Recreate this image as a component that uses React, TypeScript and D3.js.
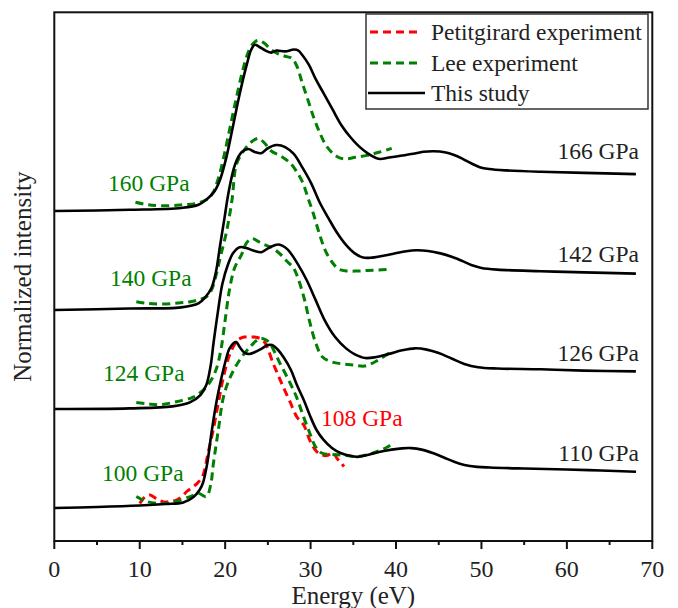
import React from "react";
import * as d3 from "d3";

type Pt = [number, number];

// ---- axis / legend text ----
const xTicks = [0, 10, 20, 30, 40, 50, 60, 70];
const xMinorTicks = [5, 15, 25, 35, 45, 55, 65];
const xTitle = "Energy (eV)";
const yTitle = "Normalized intensity";
const legendLabels = ["Petitgirard experiment", "Lee experiment", "This study"];

// ---- curve labels ----
const studyLabels = ["110 GPa", "126 GPa", "142 GPa", "166 GPa"];
const leeLabels = ["100 GPa", "124 GPa", "140 GPa", "160 GPa"];
const petitLabel = "108 GPa";
const offsets = [0, 1, 2, 3];

// ---- This study (solid black) ----
const study110: Pt[] = [
  [0, 0], [5, 0.01], [10, 0.025], [13, 0.04], [15.1, 0.056], [16.3, 0.111], [17, 0.182], [17.4, 0.253],
  [17.9, 0.45], [18.4, 0.76], [19, 1.08], [19.5, 1.29], [20, 1.47], [20.5, 1.61], [21, 1.667], [21.3, 1.677],
  [21.7, 1.626], [22.3, 1.566], [22.8, 1.556], [23.5, 1.576], [24.2, 1.606], [25, 1.646], [25.5, 1.646],
  [26.2, 1.596], [26.9, 1.515], [27.7, 1.394], [28.4, 1.242], [29.2, 1.091], [29.9, 0.939], [30.7, 0.788],
  [31.5, 0.69], [32.5, 0.606], [33.5, 0.556], [34.6, 0.527], [35.5, 0.517], [36.5, 0.533], [38, 0.566],
  [39.5, 0.59], [40.7, 0.603], [41.8, 0.605], [43, 0.59], [44.3, 0.555], [45.6, 0.51], [46.8, 0.467],
  [48, 0.435], [49.5, 0.416], [51, 0.409], [55, 0.399], [60, 0.389], [64, 0.379], [68.1, 0.367],
];
const study126: Pt[] = [
  [0, 0], [8.77, 0.007], [13.84, 0.027], [15.87, 0.067], [17.13, 0.144], [17.79, 0.242], [18.3, 0.438],
  [18.65, 0.674], [19.16, 0.988], [19.67, 1.263], [20.33, 1.459], [20.94, 1.576], [21.7, 1.634],
  [22.46, 1.626], [23.47, 1.596], [24.23, 1.584], [25.24, 1.634], [26.26, 1.662], [27.27, 1.615],
  [28.54, 1.459], [29.55, 1.301], [30.57, 1.105], [31.58, 0.909], [32.85, 0.73], [34.12, 0.615],
  [35.13, 0.555], [36.4, 0.515], [37.66, 0.525], [39.18, 0.557], [40.7, 0.593], [42.23, 0.613],
  [43.6, 0.6], [45, 0.565], [46.5, 0.51], [48, 0.455], [49.6, 0.422], [51.86, 0.409],
  [56.93, 0.401], [61.99, 0.388], [68.08, 0.38],
];
const study142: Pt[] = [
  [0, 0], [8.77, 0.015], [14.85, 0.027], [16.88, 0.067], [17.64, 0.125], [18.4, 0.223], [18.91, 0.38],
  [19.41, 0.654], [19.92, 0.928], [20.43, 1.203], [21.19, 1.478], [21.95, 1.596], [22.71, 1.627],
  [23.47, 1.596], [24.23, 1.584], [24.99, 1.634], [26, 1.666], [27.02, 1.646], [28.03, 1.576],
  [29.05, 1.438], [30.06, 1.282], [31.07, 1.086], [32.09, 0.928], [33.1, 0.78], [34.12, 0.66],
  [35.13, 0.575], [36.14, 0.53], [37.16, 0.529], [38.17, 0.543], [39.69, 0.568], [41.21, 0.594],
  [42.4, 0.603], [43.75, 0.596], [45.2, 0.572], [46.6, 0.535], [47.8, 0.494], [48.9, 0.452],
  [50, 0.425], [51.86, 0.408], [56.93, 0.392], [61.99, 0.38], [68.08, 0.368],
];
const study166: Pt[] = [
  [0, 0], [8.77, 0.012], [14.85, 0.031], [16.88, 0.063], [17.89, 0.122], [18.76, 0.2], [19.41, 0.318],
  [20.17, 0.552], [20.94, 0.867], [21.7, 1.181], [22.46, 1.455], [23.06, 1.631], [23.47, 1.679],
  [23.98, 1.659], [24.74, 1.62], [25.4, 1.6], [26, 1.62], [27.02, 1.612], [28.03, 1.631], [28.54, 1.623],
  [29.05, 1.573], [29.81, 1.475], [30.57, 1.337], [31.58, 1.181], [32.59, 1.023], [33.61, 0.867],
  [34.62, 0.75], [35.64, 0.655], [36.65, 0.585], [37.66, 0.535], [38.17, 0.525], [39.18, 0.54],
  [40.7, 0.56], [42.0, 0.578], [43.2, 0.598], [44.4, 0.604], [45.7, 0.594], [46.8, 0.566],
  [47.8, 0.527], [48.8, 0.482], [49.8, 0.443], [50.9, 0.424], [52.87, 0.41], [56.93, 0.396],
  [61.99, 0.385], [68.08, 0.373],
];

// ---- Lee experiment (green dashed) ----
const lee100: Pt[] = [
  [9.6, 0.116], [10.8, 0.066], [12.8, 0.045], [14.3, 0.066], [15.9, 0.116], [16.9, 0.146], [17.8, 0.116],
  [18.3, 0.232], [18.6, 0.434], [19.2, 0.788], [19.8, 1.121], [20.6, 1.323], [21.7, 1.495], [22.9, 1.626],
  [23.6, 1.687], [24.1, 1.712], [24.7, 1.702], [25.2, 1.667], [26.4, 1.465], [27.6, 1.263], [28.4, 1.111],
  [29.1, 0.939], [29.9, 0.758], [30.6, 0.616], [31.3, 0.556], [32.5, 0.54], [33.8, 0.535], [35.4, 0.52],
  [36.5, 0.535], [37.8, 0.571], [39, 0.616], [39.8, 0.667],
];
const lee124: Pt[] = [
  [9.6, 0.066], [11, 0.051], [12.5, 0.045], [14.3, 0.074], [16, 0.111], [16.7, 0.141], [17.8, 0.222],
  [18.5, 0.313], [19, 0.414], [19.5, 0.596], [20, 0.899], [20.5, 1.202], [21.1, 1.424], [21.9, 1.556],
  [22.5, 1.677], [23.1, 1.722], [23.6, 1.707], [24.4, 1.667], [25.3, 1.636], [26.3, 1.576], [27.2, 1.495],
  [28, 1.424], [28.6, 1.303], [29.3, 1.101], [29.9, 0.879], [30.6, 0.667], [31.4, 0.525], [32.5, 0.475],
  [33.8, 0.455], [35, 0.444], [36.3, 0.434], [37.3, 0.465], [38.3, 0.515], [39.4, 0.576],
];
const lee140: Pt[] = [
  [9.6, 0.084], [11, 0.066], [12.7, 0.061], [14.5, 0.071], [15.9, 0.084], [17, 0.106], [17.8, 0.134],
  [18.4, 0.202], [19, 0.374], [19.5, 0.556], [20.2, 0.808], [20.8, 1.111], [21.3, 1.465], [22, 1.586],
  [22.7, 1.667], [23.3, 1.712], [23.9, 1.734], [24.6, 1.687], [25.4, 1.606], [26.5, 1.556], [27.6, 1.485],
  [28.4, 1.394], [29.1, 1.283], [29.7, 1.131], [30.3, 0.98], [31, 0.778], [31.7, 0.606], [32.5, 0.485],
  [33.3, 0.414], [34.3, 0.394], [35.5, 0.394], [36.6, 0.399], [38, 0.404], [39.4, 0.414],
];
const lee160: Pt[] = [
  [9.5, 0.088], [11, 0.063], [13, 0.053], [15, 0.063], [16.7, 0.078], [17.9, 0.118], [18.6, 0.189],
  [19.2, 0.33], [19.8, 0.532], [20.5, 0.815], [21.2, 1.098], [22, 1.401], [22.7, 1.603], [23.3, 1.694],
  [23.9, 1.724], [24.6, 1.694], [25.3, 1.634], [26.1, 1.593], [27, 1.563], [27.8, 1.543], [28.4, 1.462],
  [29, 1.3], [29.7, 1.119], [30.4, 0.936], [31.1, 0.785], [31.8, 0.664], [32.6, 0.583], [33.4, 0.537],
  [34.2, 0.527], [35.2, 0.542], [36.6, 0.562], [38, 0.593], [39.5, 0.633],
];

// ---- Petitgirard experiment (red dashed) ----
const petit108: Pt[] = [
  [10, 0.045], [10.6, 0.111], [11.2, 0.131], [12, 0.091], [12.8, 0.061], [13.6, 0.066], [14.3, 0.081],
  [15, 0.121], [15.5, 0.167], [16.2, 0.212], [16.7, 0.247], [17.2, 0.298], [17.5, 0.354], [18, 0.556],
  [18.6, 0.788], [19.2, 1.061], [19.8, 1.323], [20.6, 1.566], [21.5, 1.697], [22.2, 1.727], [22.7, 1.727],
  [23.4, 1.727], [24.1, 1.712], [24.6, 1.677], [24.9, 1.631], [25.6, 1.465], [26.2, 1.343], [26.8, 1.222],
  [27.6, 1.071], [28.4, 0.919], [29.2, 0.838], [29.9, 0.687], [30.7, 0.571], [31.4, 0.535], [31.9, 0.53],
  [32.4, 0.551], [32.7, 0.556], [33.1, 0.5], [33.5, 0.465], [33.9, 0.419],
];

const studySeries = [study110, study126, study142, study166];
const leeSeries = [lee100, lee124, lee140, lee160];

// ---- layout (positions) ----
const W = 678;
const H = 608;
const M = { left: 54.3, right: 652.3, top: 12.3, bottom: 541 };
const studyLabelDy = [0.47, 0.49, 0.49, 0.53];
const leeLabelX = [102, 103, 110, 108];
const leeLabelDy = [0.273, 0.283, 0.242, 0.202];

const FONT = "'Liberation Serif', 'Times New Roman', serif";
const GREEN = "#008000";
const RED = "#ff0000";

export default function App() {
  const x = d3.scaleLinear().domain([0, 70]).range([M.left, M.right]);
  const y = d3.scaleLinear().domain([-0.333, 5.007]).range([M.bottom, M.top]);
  const mk = (off: number) =>
    d3
      .line<Pt>()
      .x((d) => x(d[0]))
      .y((d) => y(d[1] + off))
      .curve(d3.curveCatmullRom.alpha(0.5));

  return (
    <div style={{ position: "absolute", left: 0, top: 0 }}>
      <svg width={W} height={H} style={{ display: "block", background: "#fff" }}>
        <rect x={0} y={0} width={W} height={H} fill="#fff" />
        {/* curves */}
        <path d={mk(offsets[0])(petit108) || ""} fill="none" stroke={RED} strokeWidth={3} strokeDasharray="8,5" />
        {leeSeries.map((s, i) => (
          <path key={"lee" + i} d={mk(offsets[i])(s) || ""} fill="none" stroke={GREEN} strokeWidth={3} strokeDasharray="8,5" />
        ))}
        {studySeries.map((s, i) => (
          <path key={"st" + i} d={mk(offsets[i])(s) || ""} fill="none" stroke="#000" strokeWidth={2.6} strokeLinejoin="round" />
        ))}

        {/* curve labels */}
        {studyLabels.map((t, i) => (
          <text key={"sl" + i} x={639} y={y(offsets[i] + studyLabelDy[i])} textAnchor="end" fontFamily={FONT} fontSize={23.5} fill="#222">
            {t}
          </text>
        ))}
        {leeLabels.map((t, i) => (
          <text key={"ll" + i} x={leeLabelX[i]} y={y(offsets[i] + leeLabelDy[i])} fontFamily={FONT} fontSize={23.5} fill={GREEN}>
            {t}
          </text>
        ))}
        <text x={321} y={y(0.828)} fontFamily={FONT} fontSize={23.5} fill={RED}>
          {petitLabel}
        </text>

        {/* frame */}
        <rect x={M.left} y={M.top} width={M.right - M.left} height={M.bottom - M.top} fill="none" stroke="#111" strokeWidth={2} />

        {/* x ticks */}
        {xTicks.map((t) => (
          <g key={"t" + t}>
            <line x1={x(t)} x2={x(t)} y1={M.bottom} y2={M.bottom + 8} stroke="#111" strokeWidth={2} />
            <text x={x(t)} y={577} textAnchor="middle" fontFamily={FONT} fontSize={24} fill="#222">
              {t}
            </text>
          </g>
        ))}
        {xMinorTicks.map((t) => (
          <line key={"m" + t} x1={x(t)} x2={x(t)} y1={M.bottom} y2={M.bottom + 4} stroke="#111" strokeWidth={2} />
        ))}

        {/* axis titles */}
        <text x={(M.left + M.right) / 2} y={604} textAnchor="middle" fontFamily={FONT} fontSize={25} fill="#222">
          {xTitle}
        </text>
        <text
          transform={`translate(31,${(M.top + M.bottom) / 2}) rotate(-90)`}
          textAnchor="middle"
          fontFamily={FONT}
          fontSize={25}
          fill="#222"
        >
          {yTitle}
        </text>

        {/* legend */}
        <rect x={366} y={14} width={282} height={95} fill="#fff" stroke="#333" strokeWidth={1.5} />
        <line x1={370} x2={422} y1={32} y2={32} stroke={RED} strokeWidth={3} strokeDasharray="8,5" />
        <line x1={370} x2={422} y1={63} y2={63} stroke={GREEN} strokeWidth={3} strokeDasharray="8,5" />
        <line x1={368} x2={425} y1={93} y2={93} stroke="#000" strokeWidth={2.6} />
        {legendLabels.map((t, i) => (
          <text key={"lg" + i} x={431} y={32 + i * 30.5 + 8} fontFamily={FONT} fontSize={23.5} fill="#222">
            {t}
          </text>
        ))}
      </svg>
    </div>
  );
}
